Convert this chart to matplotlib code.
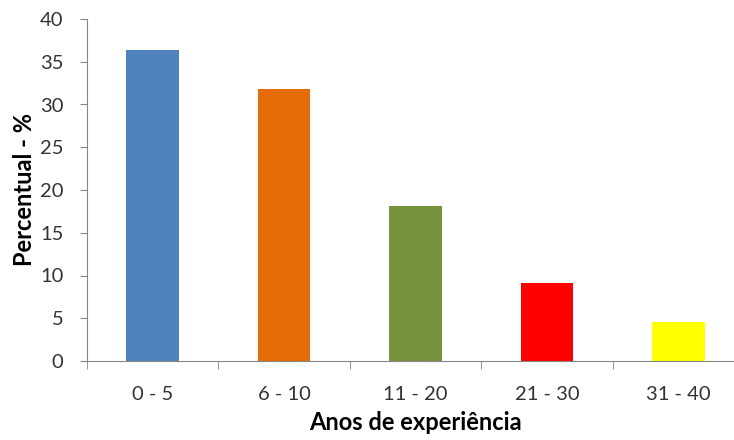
import numpy as np
import matplotlib.pyplot as plt

# dados: anos de experiencia (22 respostas)
categorias = ["0 - 5", "6 - 10", "11 - 20", "21 - 30", "31 - 40"]
percentual = [36.36, 31.82, 18.18, 9.09, 4.55]
cores = ["#4F81BD", "#E36C09", "#77933C", "#FF0000", "#FFFF00"]
y_ticks = [0, 5, 10, 15, 20, 25, 30, 35, 40]

plt.rcParams['font.family'] = ['Lato', 'DejaVu Sans']

fig = plt.figure(figsize=(7.34, 4.4), dpi=100)
ax = fig.add_axes([87/734, 79/440, 657/734, 342/440])  # eixo vai alem da borda direita

x = np.arange(len(categorias))
ax.bar(x, percentual, width=0.4, color=cores, edgecolor="none")

ax.set_xlim(-0.5, len(categorias) - 0.5)
ax.set_ylim(0, 40)
ax.set_yticks(y_ticks)
ax.set_xticks(x)
ax.set_xticklabels(categorias)
ax.set_xticks(np.arange(len(categorias) + 1) - 0.5, minor=True)

ax.tick_params(axis="x", which="major", length=0, pad=18, labelsize=14.5, colors="#333333")
ax.tick_params(axis="x", which="minor", length=6, color="#868686", direction="out")
ax.tick_params(axis="y", length=5, color="#868686", direction="out", pad=12,
               labelsize=14.5, labelcolor="#333333")

for s in ["top", "right"]:
    ax.spines[s].set_visible(False)
for s in ["left", "bottom"]:
    ax.spines[s].set_color("#868686")

ax.set_xlabel("Anos de experiência", fontsize=17, fontweight="bold", labelpad=6)
ax.set_ylabel("Percentual - %", fontsize=17, fontweight="bold", labelpad=3)

fig.savefig("out.png", dpi=100)
